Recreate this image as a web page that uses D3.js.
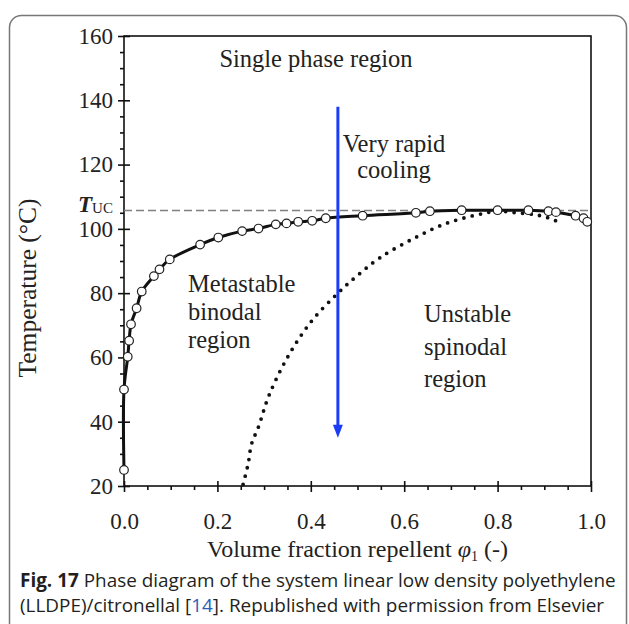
<!DOCTYPE html>
<html>
<head>
<meta charset="utf-8">
<script src="https://cdn.jsdelivr.net/npm/d3@7"></script>
<style>
  body { margin: 0; background: #fff; }
  svg { display: block; }
</style>
</head>
<body>
<div id="wrapper"></div>
<script>
// binodal (open circles joined by a thick line)
const binodalPhi = [0, 0, 0.008, 0.011, 0.015, 0.027, 0.038, 0.064, 0.076, 0.098, 0.163, 0.202, 0.253, 0.288, 0.325, 0.348, 0.373, 0.403, 0.432, 0.511, 0.625, 0.655, 0.723, 0.8, 0.866, 0.909, 0.925, 0.967, 0.984, 0.992]
const binodalT = [25, 50, 60.2, 65.2, 70.3, 75.3, 80.5, 85.3, 87.4, 90.5, 95.1, 97.3, 99.3, 100.1, 101.4, 101.7, 102.2, 102.5, 103.3, 104.1, 105.0, 105.5, 105.8, 105.8, 105.8, 105.5, 105.2, 104.1, 103.3, 102.2]
// spinodal (dotted curve)
const spinodalPhi = [0.255, 0.266, 0.273, 0.288, 0.31, 0.35, 0.40, 0.458, 0.50, 0.548, 0.62, 0.69, 0.76, 0.80, 0.84, 0.88, 0.90, 0.916, 0.934]
const spinodalT = [20.5, 27, 33, 38.4, 48, 60, 71, 80, 85.5, 91, 97, 101.7, 104.5, 105.5, 105, 104.4, 103.8, 103, 102]
const upperCriticalT = 105.7
const coolingPhi = 0.458
const coolingFromTo = [138, 35]

const xTicks = [0, 0.2, 0.4, 0.6, 0.8, 1.0]
const yTicks = [20, 40, 60, 80, 100, 120, 140, 160]

drawChart()

function drawChart() {
    const dimensions = createChartDimensions()
    const svg = d3.select("#wrapper").append("svg")
        .attr("width", dimensions.width)
        .attr("height", dimensions.height)
        .style("font-family", "'Liberation Serif', 'Times New Roman', serif")

    // figure frame
    svg.append("rect")
        .attr("x", 9.5).attr("y", 15.5)
        .attr("width", 617).attr("height", 620)
        .attr("rx", 12)
        .attr("fill", "none")
        .attr("stroke", "#777")
        .attr("stroke-width", 1.5)

    const xScale = d3.scaleLinear().domain([0, 1]).range([dimensions.left, dimensions.right])
    const yScale = d3.scaleLinear().domain([20, 160]).range([dimensions.bottom, dimensions.top])

    drawAxes(svg, xScale, yScale, dimensions)
    drawData(svg, xScale, yScale)
    drawAnnotations(svg, xScale, yScale)
    drawCaption(svg)
}

function createChartDimensions() {
    return {width: 629, height: 624, left: 124, right: 591, top: 36, bottom: 486}
}

function drawAxes(svg, xScale, yScale, dim) {
    const xMinor = d3.range(0.05, 1, 0.05).filter(v => Math.abs(v * 5 - Math.round(v * 5)) > 1e-6)
    const yMinor = d3.range(25, 160, 5).filter(v => v % 20 !== 0)

    // minor ticks (outside)
    svg.append("g")
        .attr("transform", `translate(0,${dim.bottom})`)
        .call(d3.axisBottom(xScale).tickValues(xMinor).tickSize(4).tickFormat(""))
    svg.append("g")
        .attr("transform", `translate(${dim.left},0)`)
        .call(d3.axisLeft(yScale).tickValues(yMinor).tickSize(4).tickFormat(""))

    // major ticks, crossing the axis line
    svg.append("g")
        .attr("class", "x-axis")
        .attr("transform", `translate(0,${dim.bottom})`)
        .call(d3.axisBottom(xScale).tickValues(xTicks).tickSize(6).tickFormat(d3.format(".1f")))
    svg.append("g")
        .attr("transform", `translate(0,${dim.bottom})`)
        .call(d3.axisTop(xScale).tickValues(xTicks).tickSize(5).tickFormat(""))
    svg.append("g")
        .attr("class", "y-axis")
        .attr("transform", `translate(${dim.left},0)`)
        .call(d3.axisLeft(yScale).tickValues(yTicks).tickSize(6).tickPadding(5))
    svg.append("g")
        .attr("transform", `translate(${dim.left},0)`)
        .call(d3.axisRight(yScale).tickValues(yTicks).tickSize(6).tickFormat(""))

    svg.selectAll(".domain").remove()
    svg.selectAll(".tick line").attr("stroke", "#111").attr("stroke-width", 1.6)
    svg.selectAll(".tick text")
        .attr("fill", "#222")
        .style("font-family", "'Liberation Serif', serif")
        .style("font-size", "23px")
    svg.selectAll(".x-axis .tick text").attr("y", 43).attr("dy", 0)

    // plot box
    svg.append("rect")
        .attr("x", dim.left).attr("y", dim.top)
        .attr("width", dim.right - dim.left)
        .attr("height", dim.bottom - dim.top)
        .attr("fill", "none")
        .attr("stroke", "#111")
        .attr("stroke-width", 1.6)

    // axis titles
    svg.append("text")
        .attr("transform", `translate(36,288) rotate(-90)`)
        .attr("text-anchor", "middle")
        .attr("fill", "#222")
        .style("font-size", "25.5px")
        .text("Temperature (°C)")

    const xTitle = svg.append("text")
        .attr("x", (dim.left + dim.right) / 2)
        .attr("y", 557)
        .attr("text-anchor", "middle")
        .attr("fill", "#222")
        .style("font-size", "24px")
    xTitle.append("tspan").text("Volume fraction repellent  ")
    xTitle.append("tspan").style("font-style", "italic").text("φ")
    xTitle.append("tspan").attr("dy", 4).style("font-size", "14px").text("1")
    xTitle.append("tspan").attr("dy", -4).text(" (-)")
}

function drawData(svg, xScale, yScale) {
    const binodal = binodalPhi.map((p, i) => [p, binodalT[i]])
    const spinodal = spinodalPhi.map((p, i) => [p, spinodalT[i]])
    const lineGenerator = d3.line()
        .x(d => xScale(d[0]))
        .y(d => yScale(d[1]))
        .curve(d3.curveCatmullRom.alpha(0.5))

    // dashed T_UC line
    svg.append("line")
        .attr("x1", xScale(0)).attr("x2", xScale(1))
        .attr("y1", yScale(upperCriticalT)).attr("y2", yScale(upperCriticalT))
        .attr("stroke", "#808080")
        .attr("stroke-width", 1.6)
        .attr("stroke-dasharray", "8 4")

    svg.append("path")
        .attr("d", lineGenerator(spinodal))
        .attr("fill", "none")
        .attr("stroke", "#111")
        .attr("stroke-width", 3.8)
        .attr("stroke-linecap", "round")
        .attr("stroke-dasharray", "0 8.5")

    svg.append("path")
        .attr("d", lineGenerator(binodal))
        .attr("fill", "none")
        .attr("stroke", "#111")
        .attr("stroke-width", 3)

    svg.append("g").selectAll("circle")
        .data(binodal)
        .join("circle")
        .attr("cx", d => xScale(d[0]))
        .attr("cy", d => yScale(d[1]))
        .attr("r", 4.3)
        .attr("fill", "#fff")
        .attr("stroke", "#222")
        .attr("stroke-width", 1.2)
}

function drawAnnotations(svg, xScale, yScale) {
    const blue = "#1a3cf5"
    const ax = xScale(coolingPhi)
    const tip = yScale(coolingFromTo[1])

    // cooling arrow
    svg.append("line")
        .attr("x1", ax).attr("x2", ax)
        .attr("y1", yScale(coolingFromTo[0])).attr("y2", tip - 11)
        .attr("stroke", blue)
        .attr("stroke-width", 3)
    svg.append("path")
        .attr("d", `M${ax - 5},${tip - 13} L${ax + 5},${tip - 13} L${ax},${tip} Z`)
        .attr("fill", blue)

    const label = (lines, x, y, anchor, step) => {
        const t = svg.append("text")
            .attr("x", x).attr("y", y)
            .attr("text-anchor", anchor)
            .attr("fill", "#222")
            .style("font-size", "24.5px")
        lines.forEach((s, i) => t.append("tspan").attr("x", x).attr("dy", i === 0 ? 0 : step).text(s))
    }
    label(["Single phase region"], 316, 67, "middle", 0)
    label(["Very rapid", "cooling"], 394, 152, "middle", 26)
    label(["Metastable", "binodal", "region"], 188, 292, "start", 28)
    label(["Unstable", "spinodal", "region"], 424, 322, "start", 32.5)

    // T_UC label
    const tuc = svg.append("text")
        .attr("x", 78).attr("y", 212)
        .attr("fill", "#222")
    tuc.append("tspan").style("font-size", "23px").style("font-style", "italic").style("font-weight", "bold").text("T")
    tuc.append("tspan").attr("dy", 1).style("font-size", "15px").text("UC")
}

function drawCaption(svg) {
    const c1 = svg.append("text")
        .attr("x", 20).attr("y", 587)
        .attr("fill", "#231f20")
        .style("font-family", "'Open Sans', 'Noto Sans', sans-serif")
        .style("font-size", "17px")
    c1.append("tspan").style("font-weight", "bold").text("Fig. 17")
    c1.append("tspan").text("  Phase diagram of the system linear low density polyethylene")

    const c2 = svg.append("text")
        .attr("x", 20).attr("y", 612)
        .attr("fill", "#231f20")
        .style("font-family", "'Open Sans', 'Noto Sans', sans-serif")
        .style("font-size", "17px")
    c2.append("tspan").text("(LLDPE)/citronellal [")
    c2.append("tspan").attr("fill", "#2a5db8").text("14")
    c2.append("tspan").text("]. Republished with permission from Elsevier")

    // fit caption width to the reference line length
    const target = 596
    const w = c1.node().getComputedTextLength()
    const size = 17 * target / w
    c1.style("font-size", size + "px")
    c2.style("font-size", size + "px")
}
</script>
</body>
</html>
